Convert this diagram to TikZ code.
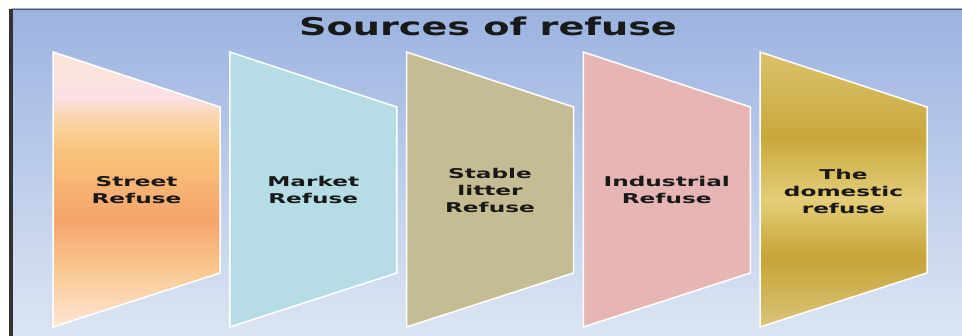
\documentclass[tikz,border=0pt]{standalone}
\usepackage{fontspec}
\setmainfont{DejaVu Sans}
\newfontfamily\panelfont[FakeStretch=1.72]{DejaVu Sans}
\newfontfamily\headfont[FakeStretch=1.56]{DejaVu Sans}
\usepackage{xcolor}
\usepackage{tikz}

\definecolor{slidetop}{HTML}{9CB3E1}
\definecolor{slidebot}{HTML}{DCE5F3}
\definecolor{marketblue}{HTML}{B6DDE6}
\definecolor{stablekhaki}{HTML}{C6BC94}
\definecolor{industpink}{HTML}{E8B5B5}
% street panel colours
\definecolor{streeta}{HTML}{FDE6D8}
\definecolor{streetb}{HTML}{F9C890}
\definecolor{streetc}{HTML}{F5A46C}
\definecolor{streetd}{HTML}{F9C47C}
\definecolor{streete}{HTML}{F9D3A0}
\definecolor{streetf}{HTML}{FBDFE6}
\definecolor{streetg}{HTML}{FBE6D6}
% gold panel colours
\definecolor{golda}{HTML}{DCC47A}
\definecolor{goldb}{HTML}{C6A436}
\definecolor{goldc}{HTML}{E5CD78}
\definecolor{goldd}{HTML}{C9A83C}
\definecolor{golde}{HTML}{DCC26C}

% vertical shadings, the shape sits between 25bp and 75bp
\pgfdeclareverticalshading{streetfill}{100bp}{%
  color(0bp)=(streeta); color(25bp)=(streeta);
  color(35.4bp)=(streetb); color(44.5bp)=(streetc);
  color(57.2bp)=(streetd); color(62.1bp)=(streete);
  color(66.8bp)=(streetf); color(75bp)=(streetg);
  color(100bp)=(streetg)}
\pgfdeclareverticalshading{goldfill}{100bp}{%
  color(0bp)=(golda); color(25bp)=(golda);
  color(37.7bp)=(goldb); color(48.1bp)=(goldc);
  color(59.5bp)=(goldd); color(75bp)=(golde);
  color(100bp)=(golde)}

\tikzset{
  panel/.style={draw=white, line width=1.5pt, line join=miter},
  label/.style={font=\panelfont\bfseries\fontsize{13.5}{17}\selectfont, align=center, text=black!90},
}

\begin{document}
\begin{tikzpicture}[x=1pt, y=-1pt]
            \useasboundingbox (0,0) rectangle (962,336);
            \fill[white] (0,0) rectangle (962,336);
            \shade[top color=slidetop, bottom color=slidebot] (11,9) rectangle (962,336);
            \draw[gray!70!black, line width=0.8pt] (11,9.4) -- (962,9.4);
            \fill[black!80] (9,9) rectangle (12.5,336);

            \node[font=\headfont\bfseries\fontsize{24.5}{28}\selectfont, text=black!90] (title) at (488,26) {Sources of refuse};

            \shade[panel, shading=streetfill] (53,52) -- (220,107) -- (220,273) -- (53,327) -- cycle;
            \fill[panel, fill=marketblue] (53 + 1*176.75,52) -- (220 + 1*176.75,107) -- (220 + 1*176.75,273) -- (53 + 1*176.75,327) -- cycle;
            \fill[panel, fill=stablekhaki] (53 + 2*176.75,52) -- (220 + 2*176.75,107) -- (220 + 2*176.75,273) -- (53 + 2*176.75,327) -- cycle;
            \fill[panel, fill=industpink] (53 + 3*176.75,52) -- (220 + 3*176.75,107) -- (220 + 3*176.75,273) -- (53 + 3*176.75,327) -- cycle;
            \shade[panel, shading=goldfill] (53 + 4*176.75,52) -- (220 + 4*176.75,107) -- (220 + 4*176.75,273) -- (53 + 4*176.75,327) -- cycle;

            \node[label] (street) at (136.5,190) {Street\\Refuse};
            \node[label] (market) at (136.5 + 1*176.75,190) {Market\\Refuse};
            \node[label] (stable) at (136.5 + 2*176.75,190) {Stable\\litter\\Refuse};
            \node[label] (industrial) at (136.5 + 3*176.75,190) {Industrial\\Refuse};
            \node[label] (domestic) at (136.5 + 4*176.75,191) {The\\domestic\\refuse};
        \end{tikzpicture}
\end{document}
